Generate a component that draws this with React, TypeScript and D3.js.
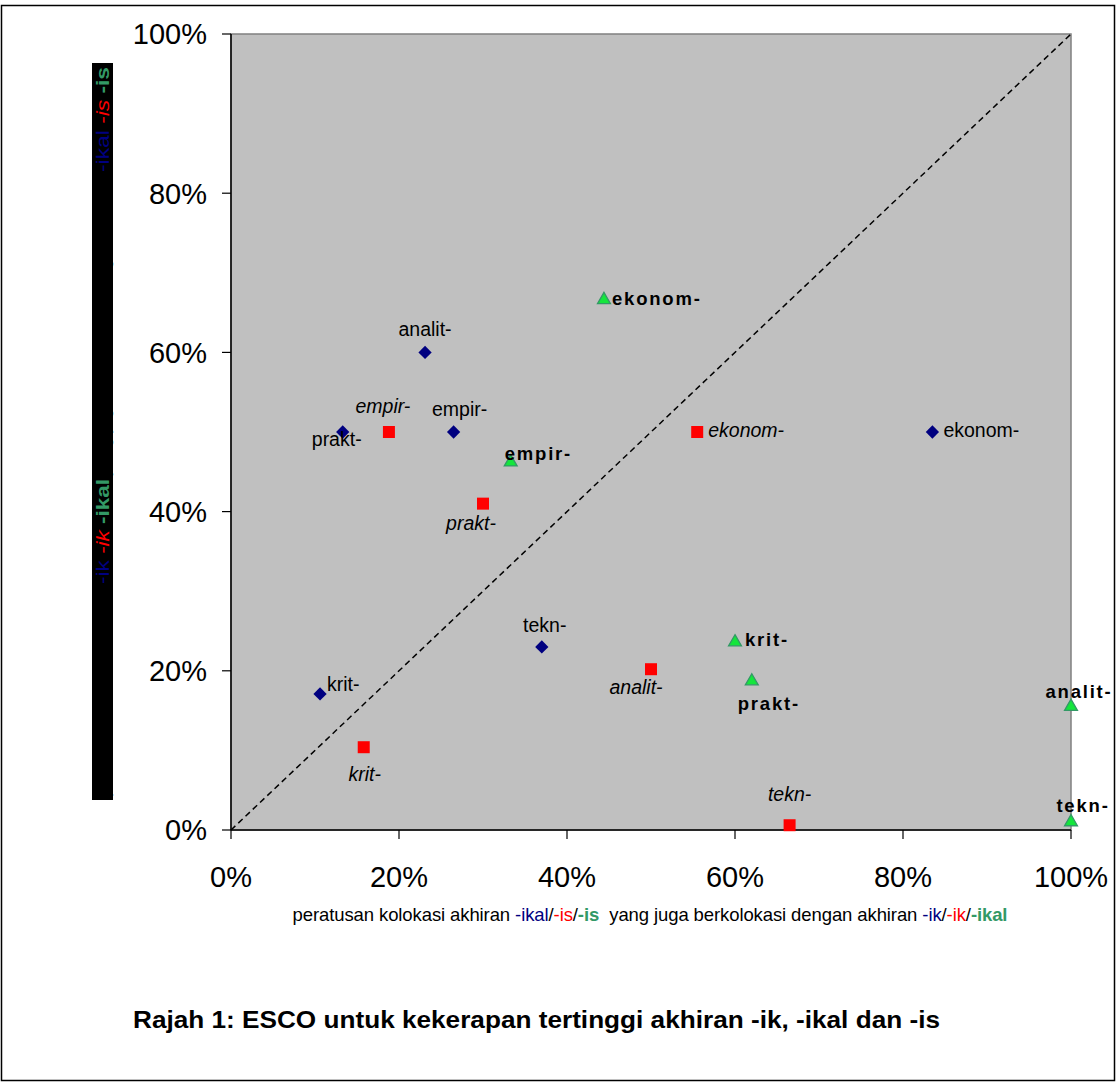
import React from 'react';
import * as d3 from 'd3';

// stems shared by the three series
const stems = ['analit-', 'empir-', 'ekonom-', 'krit-', 'prakt-', 'tekn-'];

// -ik / -ikal  (blue diamonds)
const ikX = [0.231, 0.265, 0.835, 0.106, 0.133, 0.37];
const ikY = [0.6, 0.5, 0.5, 0.171, 0.5, 0.23];

// -ik / -is  (red squares)
const isX = [0.5, 0.188, 0.555, 0.158, 0.3, 0.665];
const isY = [0.202, 0.5, 0.5, 0.104, 0.41, 0.006];

// -ikal / -is  (green triangles)
const ikalX = [1.0, 0.333, 0.444, 0.6, 0.62, 1.0];
const ikalY = [0.155, 0.462, 0.666, 0.236, 0.187, 0.01];

const tickValues = [0, 0.2, 0.4, 0.6, 0.8, 1];

// label placement per point: [anchor, dx, dy]
type Lbl = [string, number, number];
const ikLabelPos: Lbl[] = [
  ['middle', 0, -16],
  ['middle', 6, -16],
  ['start', 11, 5],
  ['start', 7, -3],
  ['middle', -6, 14],
  ['middle', 3, -15],
];
const isLabelPos: Lbl[] = [
  ['middle', -15, 25],
  ['middle', -6, -19],
  ['start', 11, 5],
  ['middle', 1, 34],
  ['middle', -12, 26],
  ['middle', 0, -24],
];
const ikalLabelPos: Lbl[] = [
  ['middle', 8, -9],
  ['start', -6, -2],
  ['start', 8, 5],
  ['start', 10, 4],
  ['middle', 17, 29],
  ['middle', 12, -10],
];

const W = 1117;
const H = 1082;
const plot = { left: 231, top: 34, right: 1071, bottom: 830 };

const NAVY = '#000080';
const RED = '#FF0000';
const GREEN = '#339966';
const FONT = 'Arial, "Liberation Sans", sans-serif';

const App = () => {
  const x = d3.scaleLinear().domain([0, 1]).range([plot.left, plot.right]);
  const y = d3.scaleLinear().domain([0, 1]).range([plot.bottom, plot.top]);
  const fmt = d3.format('.0%');

  const diamond = d3.symbol().type(d3.symbolSquare).size(88)();
  const square = d3.symbol().type(d3.symbolSquare).size(144)();
  const triangle = d3.symbol().type(d3.symbolTriangle).size(72)();

  const series = [
    { xs: ikX, ys: ikY, pos: ikLabelPos, kind: 'ik' },
    { xs: isX, ys: isY, pos: isLabelPos, kind: 'is' },
    { xs: ikalX, ys: ikalY, pos: ikalLabelPos, kind: 'ikal' },
  ];

  const marker = (kind: string, px: number, py: number, key: string) => {
    if (kind === 'ik')
      return <path key={key} d={diamond!} transform={`translate(${px},${py}) rotate(45)`} fill={NAVY} />;
    if (kind === 'is') return <path key={key} d={square!} transform={`translate(${px},${py})`} fill={RED} />;
    return (
      <path key={key} d={triangle!} transform={`translate(${px},${py})`} fill="#14E63C" stroke={GREEN} strokeWidth={1.3} />
    );
  };

  const labelStyle = (kind: string): React.SVGProps<SVGTextElement> => {
    if (kind === 'ik') return { fontSize: 19.5 };
    if (kind === 'is') return { fontSize: 19.5, fontStyle: 'italic' };
    return { fontSize: 18.5, fontWeight: 'bold', letterSpacing: 1.8 };
  };

  // rotated y title pieces (reading bottom to top)
  const yBar = { x: 92, y: 63, w: 21, h: 737 };
  const yc = yBar.x + yBar.w / 2 + 6;

  return (
    <svg width={W} height={H} style={{ position: 'absolute', left: 0, top: 0, background: '#fff' }} fontFamily={FONT}>
      <rect x={1.5} y={5.5} width={W - 4} height={H - 7} fill="#fff" stroke="#000" strokeWidth={1.5} />

      {/* plot area */}
      <rect x={plot.left} y={plot.top} width={plot.right - plot.left} height={plot.bottom - plot.top} fill="#C0C0C0" stroke="#808080" strokeWidth={1.5} />
      <line x1={x(0)} y1={y(0)} x2={x(1)} y2={y(1)} stroke="#000" strokeWidth={1.5} strokeDasharray="6,4" />

      {/* axes */}
      <line x1={plot.left} y1={plot.top} x2={plot.left} y2={plot.bottom} stroke="#000" strokeWidth={1.5} />
      <line x1={plot.left} y1={plot.bottom} x2={plot.right} y2={plot.bottom} stroke="#000" strokeWidth={1.5} />
      {tickValues.map((t) => (
        <g key={'y' + t}>
          <line x1={plot.left - 9} x2={plot.left} y1={y(t)} y2={y(t)} stroke="#000" strokeWidth={1.2} />
          <text x={207} y={y(t)} dy="0.36em" textAnchor="end" fontSize={29}>
            {fmt(t)}
          </text>
        </g>
      ))}
      {tickValues.map((t) => (
        <g key={'x' + t}>
          <line x1={x(t)} x2={x(t)} y1={plot.bottom} y2={plot.bottom + 9} stroke="#000" strokeWidth={1.2} />
          <text x={x(t)} y={887} textAnchor="middle" fontSize={29}>
            {fmt(t)}
          </text>
        </g>
      ))}

      {/* points */}
      {series.map((s) => s.xs.map((v, i) => marker(s.kind, x(v), y(s.ys[i]), s.kind + i)))}
      {series.map((s) =>
        s.xs.map((v, i) => {
          const [anchor, dx, dy] = s.pos[i];
          return (
            <text key={'l' + s.kind + i} x={x(v) + dx} y={y(s.ys[i]) + dy} textAnchor={anchor} fill="#000" {...labelStyle(s.kind)}>
              {stems[i]}
            </text>
          );
        })
      )}

      {/* x title */}
      <text x={650} y={921} fontSize={18.5} textAnchor="middle" letterSpacing={-0.1} style={{ whiteSpace: 'pre' }}>
        <tspan>peratusan kolokasi akhiran </tspan>
        <tspan fill={NAVY}>-ikal</tspan>
        <tspan>/</tspan>
        <tspan fill={RED}>-is</tspan>
        <tspan>/</tspan>
        <tspan fill={GREEN} fontWeight="bold">-is</tspan>
        <tspan>{'  yang juga berkolokasi dengan akhiran '}</tspan>
        <tspan fill={NAVY}>-ik</tspan>
        <tspan>/</tspan>
        <tspan fill={RED}>-ik</tspan>
        <tspan>/</tspan>
        <tspan fill={GREEN} fontWeight="bold">-ikal</tspan>
      </text>

      {/* y title: black text on a black bar, only the suffixes show */}
      <rect x={yBar.x} y={yBar.y} width={yBar.w} height={yBar.h} fill="#000" />
      <g transform={`translate(${yc},0) rotate(-90)`} fontSize={18}>
        <text x={-797} y={0} textLength={212} lengthAdjust="spacingAndGlyphs" fill="#000">
          peratusan kolokasi akhiran
        </text>
        <text x={-584} y={0} textLength={105} lengthAdjust="spacingAndGlyphs" style={{ whiteSpace: 'pre' }}>
          <tspan fill={NAVY}>-ik</tspan>
          <tspan fill="#000">/</tspan>
          <tspan fill={RED} fontStyle="italic">-ik</tspan>
          <tspan fill="#000">/</tspan>
          <tspan fill={GREEN} fontWeight="bold">-ikal</tspan>
        </text>
        <text x={-476} y={0} textLength={300} lengthAdjust="spacingAndGlyphs" fill="#000">
          yang juga berkolokasi dengan akhiran
        </text>
        <text x={-172} y={0} textLength={105} lengthAdjust="spacingAndGlyphs" style={{ whiteSpace: 'pre' }}>
          <tspan fill={NAVY}>-ikal</tspan>
          <tspan fill="#000">/</tspan>
          <tspan fill={RED} fontStyle="italic">-is</tspan>
          <tspan fill="#000">/</tspan>
          <tspan fill={GREEN} fontWeight="bold">-is</tspan>
        </text>
      </g>

      {/* caption */}
      <text x={133} y={1028} fontSize={24} fontWeight="bold" textLength={807} lengthAdjust="spacingAndGlyphs">
        Rajah 1: ESCO untuk kekerapan tertinggi akhiran -ik, -ikal dan -is
      </text>
    </svg>
  );
};

export default App;
